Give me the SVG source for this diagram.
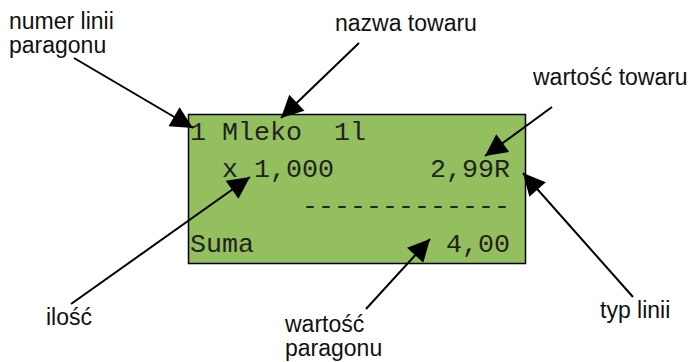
<svg xmlns="http://www.w3.org/2000/svg" width="690" height="362" viewBox="0 0 690 362">
<style>
.lbl{font-family:"Liberation Sans",Arial,sans-serif;font-size:23px;fill:#111}
.mono{font-family:"Liberation Mono","Courier New",monospace;font-size:26.67px;fill:#222}
.conn{stroke:#000;stroke-width:2;fill:none;marker-end:url(#ah)}
</style>
<defs>
<marker id="ah" viewBox="0 0 10 10" refX="10" refY="5" markerWidth="26" markerHeight="22" markerUnits="userSpaceOnUse" orient="auto">
<path d="M0,0 L10,5 L0,10 Z" fill="#000"/>
</marker>
</defs>
<g id="display">
<rect x="188.5" y="114.5" width="337" height="149" fill="#93bf5f" stroke="#000" stroke-width="1.5"/>
<text class="mono" y="140"><tspan x="190">1</tspan><tspan x="222">Mleko</tspan><tspan x="334">1l</tspan></text>
<text class="mono" y="177"><tspan x="222">x</tspan><tspan x="254">1,000</tspan><tspan x="430">2,99R</tspan></text>
<text class="mono" y="214"><tspan x="302">-------------</tspan></text>
<text class="mono" y="252"><tspan x="190">Suma</tspan><tspan x="446">4,00</tspan></text>
</g>
<g id="label-numer"><text class="lbl" x="9" y="29">numer linii</text><text class="lbl" x="9" y="53">paragonu</text></g>
<g id="label-nazwa"><text class="lbl" x="335" y="31">nazwa towaru</text></g>
<g id="label-wartosc-towaru"><text class="lbl" x="533" y="85">wartość towaru</text></g>
<g id="label-typ"><text class="lbl" x="600" y="318">typ linii</text></g>
<g id="label-ilosc"><text class="lbl" x="46" y="325">ilość</text></g>
<g id="label-wartosc-paragonu"><text class="lbl" x="285" y="332">wartość</text><text class="lbl" x="285" y="356">paragonu</text></g>
<g id="connectors">
<line class="conn" x1="74" y1="58" x2="193" y2="128"/>
<line class="conn" x1="359" y1="43" x2="281" y2="118"/>
<line class="conn" x1="552" y1="107" x2="485" y2="156"/>
<line class="conn" x1="633" y1="297" x2="523" y2="173"/>
<line class="conn" x1="71" y1="304" x2="250" y2="177"/>
<line class="conn" x1="366" y1="309" x2="430" y2="239"/>
</g>
</svg>
